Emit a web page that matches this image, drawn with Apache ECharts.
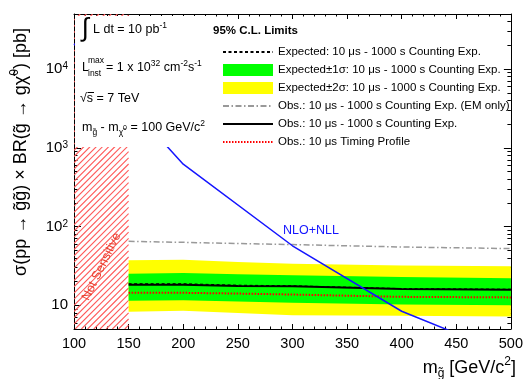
<!DOCTYPE html>
<html><head><meta charset="utf-8">
<script src="https://cdn.jsdelivr.net/npm/echarts@6/dist/echarts.min.js"></script>
<style>html,body{margin:0;padding:0;background:#fff}#c{width:526px;height:379px}</style>
</head><body><div id="c"></div>
<script>
// ---- data ----
const massLimit = [150, 200, 250, 300, 400, 500];
const expected  = [18.8, 18.8, 18.0, 17.7, 16.3, 16.0];
const observed  = [18.3, 18.3, 17.6, 17.4, 16.1, 15.8];
const oneSigLo  = [11.4, 11.6, 11.2, 10.8, 10.2, 10.0];
const oneSigHi  = [25.2, 25.8, 24.7, 24.0, 22.9, 22.1];
const twoSigLo  = [8.25, 8.5, 8.0, 7.46, 7.35, 7.2];
const twoSigHi  = [37.2, 37.9, 35.5, 33.7, 32.1, 31.4];
const emOnly    = [65, 63, 61, 59, 55, 52.5];
const timing    = [14.4, 14.4, 14.1, 13.7, 12.8, 12.6];
const massNLO   = [100, 150, 200, 300, 400, 500];
const sigmaNLO  = [21000, 3600, 620, 57, 8.4, 2.3];
const xRange = [100, 500];
const yRange = [5, 50000];
const notSensitiveRange = [100, 150];
const legendNames = [
  'Expected: 10 \u03bcs - 1000 s Counting Exp.',
  'Expected\u00b11\u03c3: 10 \u03bcs - 1000 s Counting Exp.',
  'Expected\u00b12\u03c3: 10 \u03bcs - 1000 s Counting Exp.',
  'Obs.: 10 \u03bcs - 1000 s Counting Exp. (EM only)',
  'Obs.: 10 \u03bcs - 1000 s Counting Exp.',
  'Obs.: 10 \u03bcs Timing Profile'
];

const FONT = '"Liberation Sans", Arial, Helvetica, sans-serif';
const zip = (xs, ys) => xs.map((x, i) => [x, ys[i]]);

function bandSeries(name, lo, hi, color) {
  return {
    name: name, type: 'custom', silent: true, color: color, clip: true,
    data: zip(massLimit, hi), encode: {x: 0, y: 1},
    renderItem: function (params, api) {
      if (params.dataIndex !== 0) return null;
      const pts = [];
      for (let i = 0; i < massLimit.length; i++) pts.push(api.coord([massLimit[i], hi[i]]));
      for (let i = massLimit.length - 1; i >= 0; i--) pts.push(api.coord([massLimit[i], lo[i]]));
      return {type: 'polygon', shape: {points: pts}, style: {fill: color, stroke: null}};
    }
  };
}

const chart = echarts.init(document.getElementById('c'));

const tick = {show: true, inside: true, length: 5, lineStyle: {color: '#000', width: 1}};
const minor = (n, len) => ({show: true, splitNumber: n, length: len, lineStyle: {color: '#000', width: 1}});
const line = {show: true, onZero: false, lineStyle: {color: '#000', width: 1}};

const richPave = {
  n: {fontSize: 12.5, fontFamily: FONT, fill: '#000', lineHeight: 18},
  sup: {fontSize: 8.5, fontFamily: FONT, fill: '#000', lineHeight: 9, verticalAlign: 'top'},
  sub: {fontSize: 8.5, fontFamily: FONT, fill: '#000', lineHeight: 9, verticalAlign: 'bottom'},
  tiny: {fontSize: 7, fontFamily: FONT, fill: '#000', lineHeight: 18}
};
const richTitle = {
  b: {fontSize: 18, fontFamily: FONT, fill: '#000', lineHeight: 24},
  sup: {fontSize: 12, fontFamily: FONT, fill: '#000', lineHeight: 12, verticalAlign: 'top'},
  sub: {fontSize: 12, fontFamily: FONT, fill: '#000', lineHeight: 12, verticalAlign: 'bottom'}
};
function txt(x, y, text, rich) {
  return {type: 'text', x: x, y: y, z: 20,
    style: {text: text, rich: rich, align: 'left', verticalAlign: 'middle', fill: '#000', font: '12.5px ' + FONT}};
}
function plain(x, y, text, font, fill, align) {
  return {type: 'text', x: x, y: y, z: 20,
    style: {text: text, font: font, fill: fill || '#000', align: align || 'left', verticalAlign: 'middle'}};
}

const option = {
  animation: false,
  backgroundColor: '#fff',
  grid: {left: 74, right: 12, top: 14, bottom: 50, show: false},
  xAxis: [
    {type: 'value', min: xRange[0], max: xRange[1], interval: 50, position: 'bottom',
     axisLine: line, axisTick: tick, minorTick: minor(5, 2.5), splitLine: {show: false},
     axisLabel: {fontFamily: FONT, fontSize: 14.5, color: '#000', margin: 7}},
    {type: 'value', min: xRange[0], max: xRange[1], interval: 50, position: 'top',
     axisLine: line, axisTick: tick, minorTick: minor(5, 2.5), splitLine: {show: false},
     axisLabel: {show: false}}
  ],
  yAxis: [
    {type: 'log', logBase: 10, min: yRange[0], max: yRange[1], position: 'left',
     axisLine: line, axisTick: Object.assign({}, tick, {length: 7}), minorTick: minor(9, 3.5),
     splitLine: {show: false},
     axisLabel: {margin: 6, color: '#000', fontFamily: FONT, fontSize: 15,
       showMinLabel: false, showMaxLabel: false,
       formatter: function (v) {
         const e = Math.round(Math.log10(v));
         if (Math.abs(v / Math.pow(10, e) - 1) > 1e-6) return '';
         return e === 1 ? '{b|10}' : '{b|10}{s|' + e + '}';
       },
       rich: {b: {fontSize: 15, fontFamily: FONT, color: '#000'},
              s: {fontSize: 10, fontFamily: FONT, color: '#000', lineHeight: 12, verticalAlign: 'top'}}}},
    {type: 'log', logBase: 10, min: yRange[0], max: yRange[1], position: 'right',
     axisLine: line, axisTick: Object.assign({}, tick, {length: 7}), minorTick: minor(9, 3.5),
     splitLine: {show: false}, axisLabel: {show: false}}
  ],
  legend: {
    orient: 'vertical', left: 217, top: 40, itemWidth: 50, itemHeight: 12, itemGap: 4,
    selectedMode: false,
    textStyle: {fontFamily: FONT, fontSize: 11.5, color: '#000', lineHeight: 14},
    data: [
      {name: legendNames[0], itemStyle: {opacity: 0}},
      {name: legendNames[1], icon: 'rect'},
      {name: legendNames[2], icon: 'rect'},
      {name: legendNames[3], itemStyle: {opacity: 0}},
      {name: legendNames[4], itemStyle: {opacity: 0}},
      {name: legendNames[5], itemStyle: {opacity: 0}}
    ]
  },
  series: [
    {name: 'notSensitive', type: 'custom', silent: true, clip: true, color: '#ff5a5a',
     data: [[notSensitiveRange[0], yRange[1], notSensitiveRange[1], yRange[0]]],
     encode: {x: [0, 2], y: [1, 3]},
     renderItem: function (params, api) {
       const p0 = api.coord([api.value(0), api.value(1)]);
       const p1 = api.coord([api.value(2), api.value(3)]);
       const x0 = p0[0], y0 = p0[1], x1 = p1[0], y1 = p1[1];
       const step = 6.2;
       let d = '';
       for (let c = x0 + y0 + step; c < x1 + y1; c += step) {
         const xa = Math.max(x0, c - y1), xb = Math.min(x1, c - y0);
         if (xb <= xa) continue;
         d += 'M' + xa.toFixed(2) + ' ' + (c - xa).toFixed(2) + 'L' + xb.toFixed(2) + ' ' + (c - xb).toFixed(2);
       }
       return {type: 'path', shape: {pathData: d, layout: 'cover'},
               style: {stroke: '#ff5a5a', lineWidth: 1.1, fill: 'none', opacity: 1}};
     }},
    bandSeries(legendNames[2], twoSigLo, twoSigHi, '#ffff00'),
    bandSeries(legendNames[1], oneSigLo, oneSigHi, '#00ff00'),
    {name: legendNames[3], type: 'line', symbol: 'none', color: '#999999',
     data: zip(massLimit, emOnly), lineStyle: {color: '#999999', width: 1.5, type: [6, 2.5, 1.5, 2.5]}},
    {name: legendNames[0], type: 'line', symbol: 'none', color: '#000',
     data: zip(massLimit, expected), lineStyle: {color: '#000', width: 1, type: [3, 2.5]}},
    {name: legendNames[4], type: 'line', symbol: 'none', color: '#000',
     data: zip(massLimit, observed), lineStyle: {color: '#000', width: 2}},
    {name: legendNames[5], type: 'line', symbol: 'none', color: '#ff0000',
     data: zip(massLimit, timing), lineStyle: {color: '#ff0000', width: 2, type: [1.5, 1.5]}},
    {name: 'NLO+NLL', type: 'line', symbol: 'none', color: '#1515ff',
     data: zip(massNLO, sigmaNLO), lineStyle: {color: '#1515ff', width: 1.5}}
  ],
  graphic: [
    {type: 'rect', z: 10, shape: {x: 75, y: 16, width: 132, height: 131}, style: {fill: '#fff'}},
    plain(85, 29, '\u222b', '26px ' + FONT, '#000', 'center'),
    txt(93, 30, '{n|L dt = 10 pb}{sup|-1}', richPave),
    txt(82, 68, '{n|L}', richPave),
    plain(88, 61, 'max', '8.5px ' + FONT),
    plain(88, 74, 'inst', '8.5px ' + FONT),
    txt(106, 68, '{n|= 1 x 10}{sup|32}{n| cm}{sup|-2}{n|s}{sup|-1}', richPave),
    txt(80, 99, '{n|\u221as = 7 TeV}', richPave),
    {type: 'line', z: 20, shape: {x1: 87.5, y1: 92.5, x2: 94, y2: 92.5}, style: {stroke: '#000', lineWidth: 1}},
    txt(82, 128, '{n|m}{sub|g\u0303}{n| - m}{sub|\u03c7\u0303}{tiny|0}{n| = 100 GeV/c}{sup|2}', richPave),
    plain(213, 31, '95% C.L. Limits', 'bold 11.5px ' + FONT),
    plain(283, 231, 'NLO+NLL', '12.5px ' + FONT, '#1515ff'),
    {type: 'text', z: 20, x: 101.5, y: 266.7, rotation: 64 * Math.PI / 180,
     style: {text: 'Not Sensitive', font: '12.5px ' + FONT, fill: '#e8402f', align: 'center', verticalAlign: 'middle'}},
    {type: 'text', z: 20, x: 516, y: 368,
     style: {text: '{b|m}{sub|g\u0303}{b| [GeV/c}{sup|2}{b|]}', rich: richTitle, align: 'right', verticalAlign: 'middle'}},
    {type: 'text', z: 20, x: 21, y: 152, rotation: Math.PI / 2,
     style: {text: '{b|\u03c3(pp \u2192 g\u0303g\u0303) \u00d7 BR(g\u0303 \u2192 g\u03c7\u0303}{sup|0}{b|) [pb]}', rich: richTitle, align: 'center', verticalAlign: 'middle'}}
  ]
};
chart.setOption(option);
</script>
</body></html>
